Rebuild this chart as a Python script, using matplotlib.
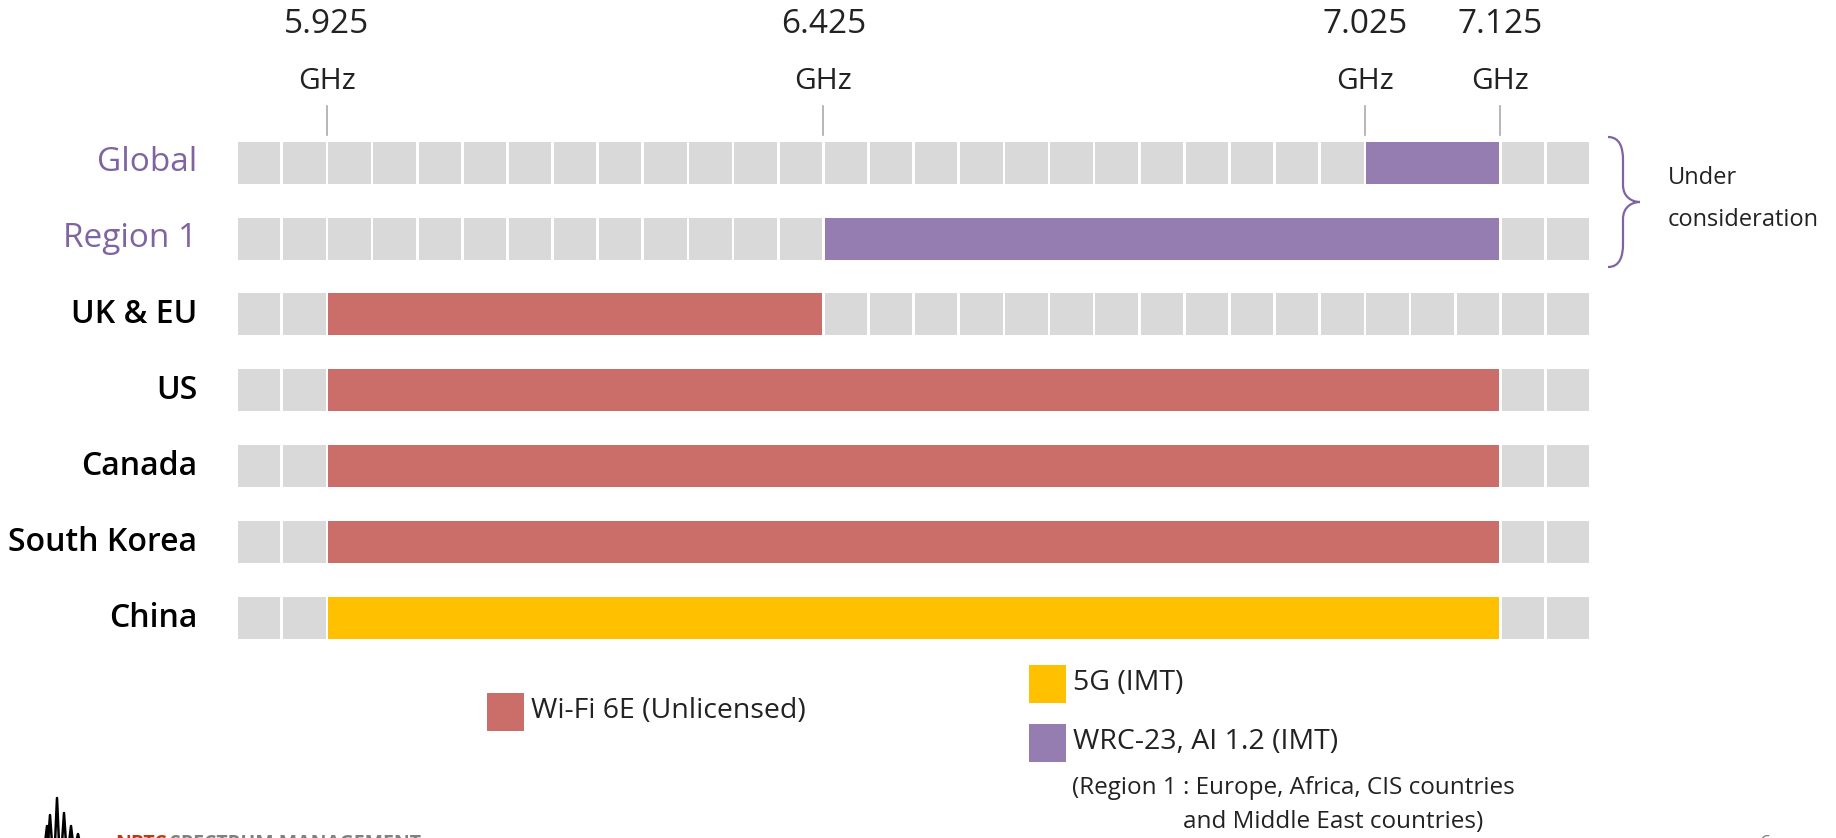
import matplotlib
matplotlib.use("Agg")
import matplotlib.pyplot as plt
from matplotlib.patches import Rectangle, PathPatch
from matplotlib.path import Path

plt.rcParams['font.family'] = ['Open Sans', 'DejaVu Sans']

# rows, top to bottom
rows = ["Global", "Region 1", "UK & EU", "US", "Canada", "South Korea", "China"]
row_colors = ["#8064A2", "#8064A2", "black", "black", "black", "black", "black"]

# frequency marks on the 30-cell grid
n_cells = 30
mark_labels = ["5.925", "6.425", "7.025", "7.125"]
mark_cells = [2, 13, 25, 28]

# allocated band per row: start cell, end cell, category
band_start = [25, 13, 2, 2, 2, 2, 2]
band_end = [28, 28, 13, 28, 28, 28, 28]
band_kind = ["wrc", "wrc", "wifi", "wifi", "wifi", "wifi", "5g"]

colors = {"wifi": "#CB6E69", "5g": "#FFC000", "wrc": "#957CB1"}
legend_text = {"wifi": "Wi-Fi 6E (Unlicensed)", "5g": "5G (IMT)", "wrc": "WRC-23, AI 1.2 (IMT)"}

W, H = 1836, 838
fig = plt.figure(figsize=(W / 100, H / 100), dpi=100)

# grid axes placed in pixel terms
pitch = 75.9
top_px = 162.7 - pitch / 2
ax = fig.add_axes([238 / W, 1 - (top_px + 7 * pitch) / H, 30 * 45.13 / W, 7 * pitch / H])
ax.set_xlim(0, n_cells)
ax.set_ylim(6.5, -0.5)
ax.axis("off")

gap = 0.06
bh = 42 / pitch
for i in range(len(rows)):
    for c in range(n_cells):
        ax.add_patch(Rectangle((c, i - bh / 2), 1 - gap, bh, color="#D9D9D9", lw=0))
    s, e = band_start[i], band_end[i]
    ax.add_patch(Rectangle((s, i - bh / 2), e - s - gap, bh, color=colors[band_kind[i]], lw=0))
    if i < 2:
        ax.text(-0.9, i, rows[i], ha="right", va="center", fontsize=24, color=row_colors[i])
    else:
        ax.text(-0.9, i, rows[i], ha="right", va="center", fontsize=23,
                color=row_colors[i], fontweight="semibold")

# frequency marks
for lab, c in zip(mark_labels, mark_cells):
    x = c - gap / 2
    ax.plot([x, x], [(106 - 162.7) / pitch, (135 - 162.7) / pitch], color="#AAAAAA", lw=1.2, clip_on=False)
    ax.text(x, (25 - 162.7) / pitch, lab, ha="center", va="center", fontsize=24, color="#222222")
    ax.text(x, (82 - 162.7) / pitch, "GHz", ha="center", va="center", fontsize=21.5, color="#222222")

# overlay axes in pixel coordinates for brace, legend and footer
ov = fig.add_axes([0, 0, 1, 1])
ov.set_xlim(0, W)
ov.set_ylim(H, 0)
ov.axis("off")

verts = [(1608, 137), (1620, 137), (1623, 148), (1623, 160),
         (1623, 185), (1623, 197), (1632, 202), (1640, 202),
         (1632, 202), (1623, 207), (1623, 219),
         (1623, 244), (1623, 256), (1620, 267), (1608, 267)]
codes = [Path.MOVETO, Path.CURVE4, Path.CURVE4, Path.CURVE4,
         Path.LINETO, Path.CURVE4, Path.CURVE4, Path.CURVE4,
         Path.CURVE4, Path.CURVE4, Path.CURVE4,
         Path.LINETO, Path.CURVE4, Path.CURVE4, Path.CURVE4]
ov.add_patch(PathPatch(Path(verts, codes), fill=False, edgecolor="#8064A2", lw=1.6))
ov.text(1668, 178, "Under", ha="left", va="center", fontsize=17, color="#222222")
ov.text(1668, 220, "consideration", ha="left", va="center", fontsize=17, color="#222222")

# legend
legend_pos = {"wifi": (487, 693), "5g": (1029, 665), "wrc": (1029, 724)}
for k, (x0, y0) in legend_pos.items():
    ov.add_patch(Rectangle((x0, y0), 37, 38, color=colors[k], lw=0))
    ov.text(x0 + 44, y0 + 18, legend_text[k], ha="left", va="center", fontsize=20.5, color="#222222")
ov.text(1072, 788, "(Region 1 : Europe, Africa, CIS countries", ha="left", va="center",
        fontsize=17.5, color="#222222")
ov.text(1183, 822, "and Middle East countries)", ha="left", va="center", fontsize=17.5, color="#222222")

# footer logo (cut off at the bottom edge)
for px, top in [(47, 826), (50, 815), (57, 798), (64, 813), (71, 826), (78, 834)]:
    ov.plot([px - 2, px, px + 2], [H + 5, top, H + 5], color="black", lw=1.8)
ov.text(115, 834, "NBTC", ha="left", va="top", fontsize=14, fontweight="bold", color="#C0390F")
ov.text(170, 834, "SPECTRUM MANAGEMENT", ha="left", va="top", fontsize=14, fontweight="bold", color="#808080")
ov.text(1760, 834, "6", ha="left", va="top", fontsize=14, color="#808080")

fig.savefig("out.png", dpi=100)
